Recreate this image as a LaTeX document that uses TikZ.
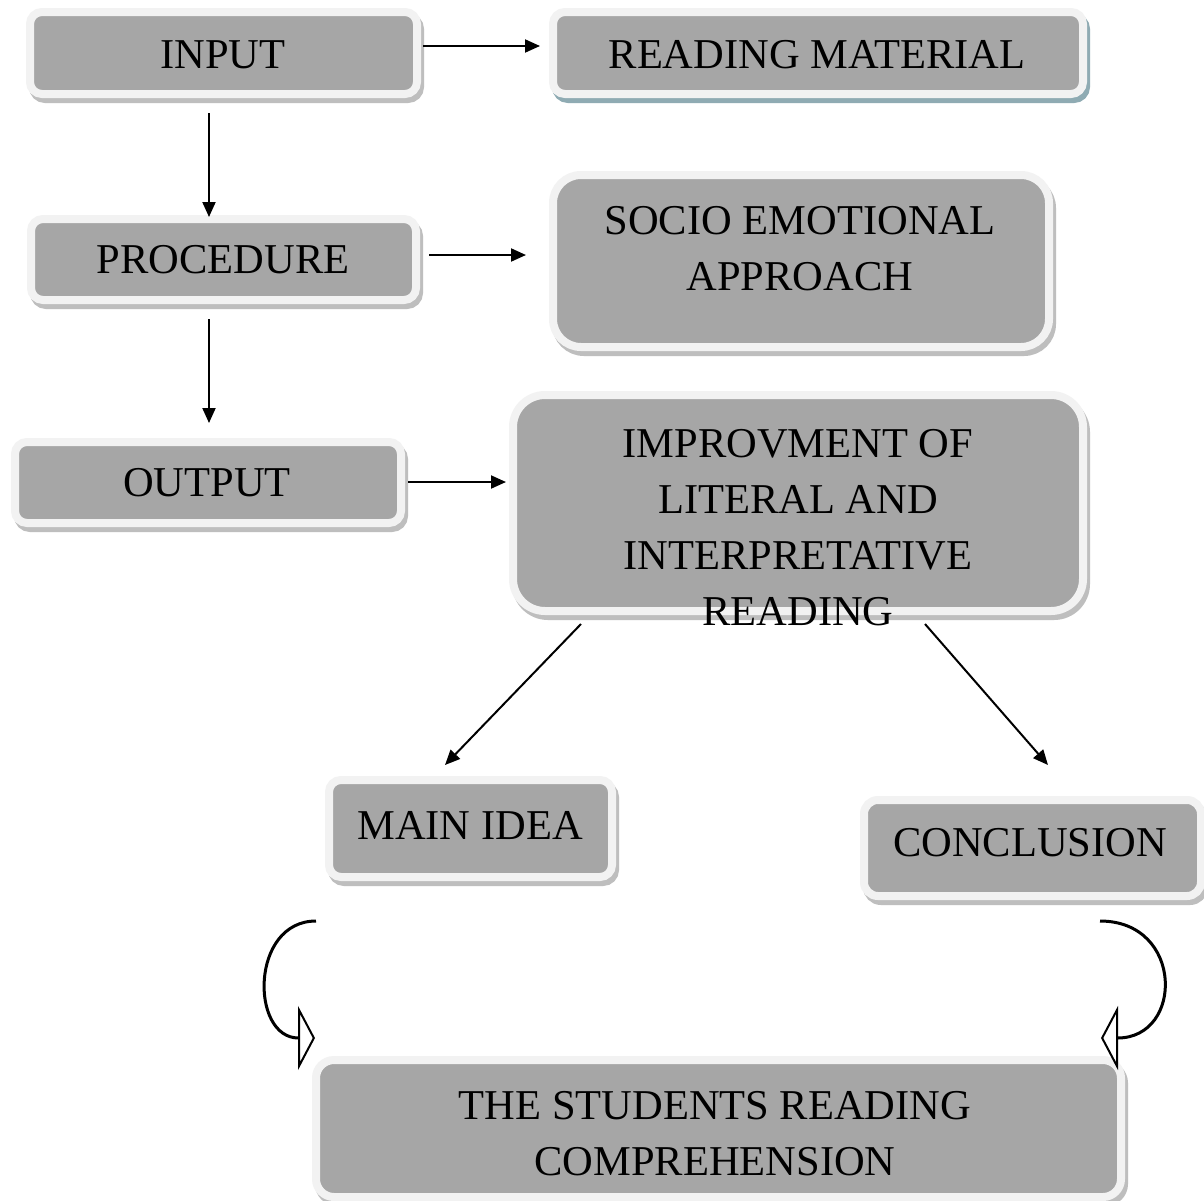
\documentclass[tikz,border=0pt]{standalone}
\usepackage{fontspec}
\setmainfont{Liberation Serif}
\usetikzlibrary{arrows.meta,calc}
\definecolor{boxgray}{HTML}{A6A6A6}
\definecolor{boxedge}{HTML}{F2F2F2}
\definecolor{shadowgray}{HTML}{BEBEBE}
\definecolor{shadowblue}{HTML}{8FABB3}
\begin{document}
\begin{tikzpicture}[x=1pt,y=-1pt,
  boxbase/.style={rectangle, fill=boxgray, draw=boxedge, line width=8pt, inner sep=0pt, outer sep=0pt},
  graybox/.style={boxbase, rounded corners=#1, preaction={fill=shadowgray, draw=shadowgray, transform canvas={shift={(3pt,-5pt)}}}},
  bluebox/.style={boxbase, rounded corners=#1, preaction={fill=shadowblue, draw=shadowblue, transform canvas={shift={(3pt,-5pt)}}}},
  txt/.style={font=\fontsize{42.5}{56}\selectfont, align=center, inner sep=0pt, text=black},
  arr/.style={line width=2pt, -{Triangle[length=15pt,width=13pt]}},
  curvearr/.style={line width=3pt, -{Triangle[open,length=17pt,width=64pt,line width=2pt]}}]
\useasboundingbox (0,0) rectangle (1204,1200);
\fill[white] (0,0) rectangle (1204,1200);
% boxes
\node[graybox=12pt, minimum width=387pt, minimum height=82pt] (inbox) at (223.5,53) {};
\node[bluebox=12pt, minimum width=530pt, minimum height=82pt] (readbox) at (818,53) {};
\node[graybox=12pt, minimum width=385pt, minimum height=81pt] (procbox) at (223.5,259.5) {};
\node[graybox=28pt, minimum width=496pt, minimum height=172pt] (sociobox) at (801,261) {};
\node[graybox=12pt, minimum width=386pt, minimum height=81pt] (outbox) at (208,482.5) {};
\node[graybox=32pt, minimum width=570pt, minimum height=216pt] (impbox) at (798,503) {};
\node[graybox=12pt, minimum width=283pt, minimum height=97pt] (mainbox) at (470.5,828.5) {};
\node[graybox=14pt, minimum width=337pt, minimum height=96pt] (conbox) at (1032.5,848) {};
\node[graybox=18pt, minimum width=805pt, minimum height=137pt] (stubox) at (718.5,1128.5) {};
% texts
\node[txt] (intxt) at (223,55) {INPUT};
\node[txt] (readtxt) at (817,55) {READING MATERIAL};
\node[txt] (proctxt) at (223,260) {PROCEDURE};
\node[txt] (sociotxt) at (800,249) {SOCIO EMOTIONAL\\APPROACH};
\node[txt] (outtxt) at (207,483) {OUTPUT};
\node[txt] (imptxt) at (798,527.5) {IMPROVMENT OF\\LITERAL AND\\INTERPRETATIVE\\READING};
\node[txt] (maintxt) at (470,825) {MAIN IDEA};
\node[txt] (contxt) at (1030,843) {CONCLUSION};
\node[txt] (stutxt) at (715,1133.5) {THE STUDENTS READING\\COMPREHENSION};
% connectors
\draw[arr] ($(inbox.east)+(6,-7)$) -- ($(readbox.west)+(-13,-7)$);
\draw[arr] ($(inbox.south)+(-14.5,19)$) -- ($(procbox.north)+(-14.5,-2)$);
\draw[arr] ($(procbox.east)+(13,-4.5)$) -- ($(sociobox.west)+(-27,-6)$);
\draw[arr] ($(procbox.south)+(-14.5,19)$) -- ($(outbox.north)+(1,-19)$);
\draw[arr] ($(outbox.east)+(7,-0.5)$) -- ($(impbox.west)+(-7,-21)$);
\draw[arr] ($(impbox.south)+(-217,13)$) -- ($(mainbox.north)+(-25.5,-15)$);
\draw[arr] ($(impbox.south)+(127,13)$) -- ($(conbox.north)+(15.5,-35)$);
\draw[curvearr] ($(mainbox.south)+(-154.5,44)$) .. controls (250,921) and (250,1038) .. ($(stubox.west)+(-1,-90.5)$);
\draw[curvearr] ($(conbox.south)+(67.5,25)$) .. controls (1184,921) and (1184,1038) .. ($(stubox.east)+(-20,-90.5)$);
\end{tikzpicture}
\end{document}
